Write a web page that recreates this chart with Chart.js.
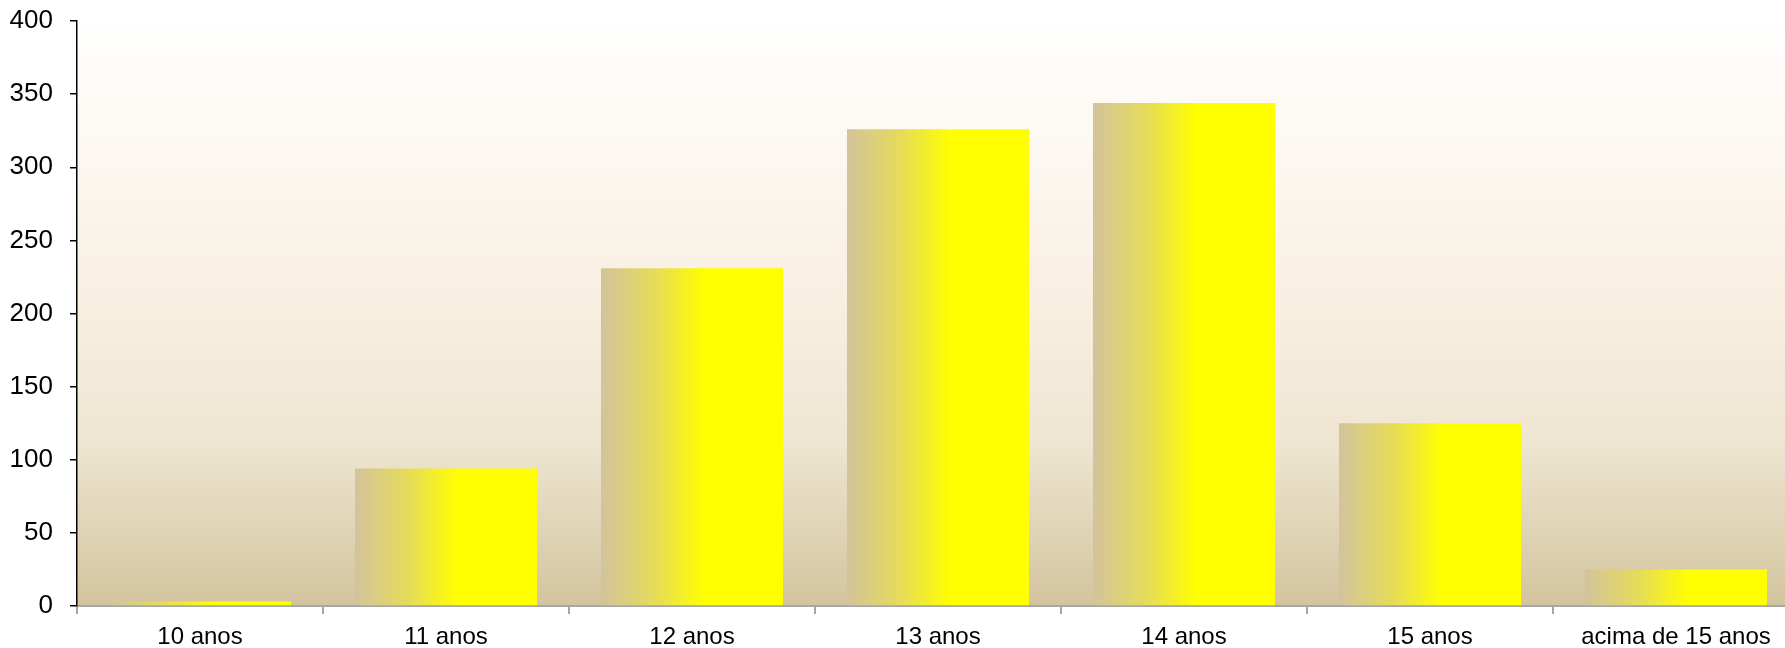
<!DOCTYPE html>
<html>
<head>
<meta charset="utf-8">
<script src="https://cdn.jsdelivr.net/npm/chart.js@4"></script>
<style>
    html, body { margin: 0; padding: 0; background: #ffffff; overflow: hidden; }
    #wrap { width: 1800px; height: 648px; }
</style>
</head>
<body>
<div id="wrap"><canvas id="ageChart" width="1800" height="648"></canvas></div>
<script>
const categories = ["10 anos", "11 anos", "12 anos", "13 anos", "14 anos", "15 anos", "acima de 15 anos"];
const counts = [3, 94, 231, 326, 344, 125, 25];
const yTicks = [0, 50, 100, 150, 200, 250, 300, 350, 400];

const BAR_PCT = 0.74;

// vertical gradient behind the plot area only
const plotBackground = {
    id: "plotBackground",
    beforeDraw(chart) {
        const { ctx, chartArea: a } = chart;
        const g = ctx.createLinearGradient(0, a.top, 0, a.bottom);
        g.addColorStop(0, "#ffffff");
        g.addColorStop(0.45, "#f9f0e3");
        g.addColorStop(0.72, "#eee6d2");
        g.addColorStop(1, "#d3c49e");
        ctx.save();
        ctx.fillStyle = g;
        ctx.fillRect(a.left, a.top, a.right - a.left, a.bottom - a.top);
        ctx.restore();
    }
};

function barGradient(context) {
    const chart = context.chart;
    const x = chart.scales.x;
    if (!chart.chartArea || !x) return "#ffff00";
    const center = x.getPixelForValue(context.dataIndex);
    const half = (x.width / categories.length) * BAR_PCT / 2;
    const g = chart.ctx.createLinearGradient(center - half, 0, center + half, 0);
    g.addColorStop(0, "#d3c39c");
    g.addColorStop(0.3, "#e6dc58");
    g.addColorStop(0.57, "#ffff00");
    g.addColorStop(1, "#ffff00");
    return g;
}

const family = "'Liberation Sans', Arial, sans-serif";

new Chart(document.getElementById("ageChart"), {
    type: "bar",
    data: {
        labels: categories,
        datasets: [{
            data: counts,
            backgroundColor: barGradient,
            borderWidth: 0,
            categoryPercentage: 1,
            barPercentage: BAR_PCT
        }]
    },
    options: {
        responsive: false,
        animation: false,
        layout: { padding: { left: 0, right: 1, top: 21, bottom: 0 } },
        plugins: {
            legend: { display: false },
            tooltip: { enabled: false }
        },
        scales: {
            x: {
                afterFit(axis) { axis.height = 42; },
                border: { color: "#a6a6a6", width: 2 },
                grid: { drawOnChartArea: false, color: "#a6a6a6", tickLength: 8, lineWidth: 2 },
                ticks: { color: "#000000", font: { family, size: 24 }, padding: 9, maxRotation: 0 }
            },
            y: {
                min: 0,
                max: 400,
                afterBuildTicks(axis) {
                    axis.ticks = yTicks.map(v => ({ value: v }));
                },
                afterFit(axis) {
                    axis.width = 77;
                    axis.paddingTop = 0;
                    axis.paddingBottom = 0;
                },
                border: { color: "#000000", width: 1.5 },
                grid: { drawOnChartArea: false, color: "#000000", tickLength: 7, lineWidth: 1.5 },
                ticks: { color: "#000000", font: { family, size: 26 }, padding: 17 }
            }
        }
    },
    plugins: [plotBackground]
});
</script>
</body>
</html>
